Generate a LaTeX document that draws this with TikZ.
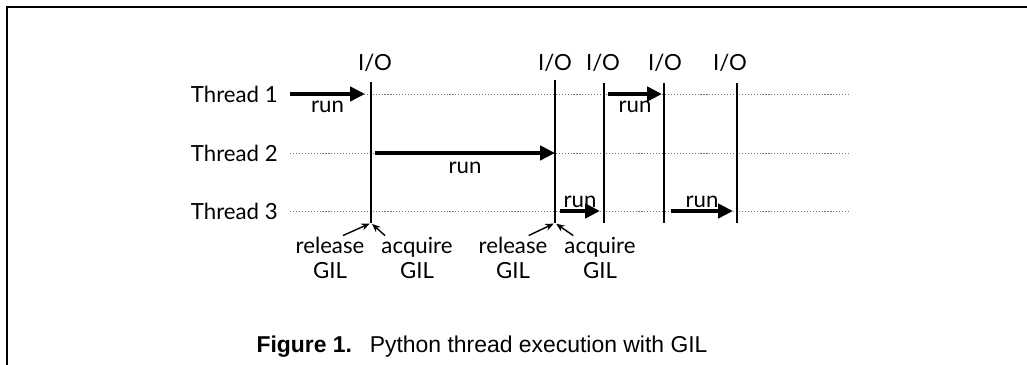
\documentclass[tikz,border=0pt]{standalone}
\usepackage{fontspec}
\setmainfont{Lato}
\newfontfamily\capfont{Liberation Sans}
\usetikzlibrary{arrows.meta,positioning}
\tikzset{%
    >={Triangle[length=10.5pt,width=10pt]},
    gillfont/.style={font=\fontsize{15.8}{17.8}\selectfont},
    thread/.style={gillfont,anchor=east,inner xsep=0.3cm},
    io/.style={gillfont,inner sep=1pt},
    lbl/.style={gillfont,inner sep=1pt},
    gil/.style={gillfont,align=center,inner sep=1pt},
    caption/.style={font=\capfont\fontsize{16.3}{18}\selectfont},
    run/.style={->,line width=2.6pt},
    switch/.style={line width=1.5pt},
    track/.style={black!55,line width=0.6pt,dash pattern=on 0.8pt off 1.3pt},
    grab/.style={-{Stealth[length=6pt,width=5pt]},line width=1pt,shorten >=1pt},
    frame/.style={line width=1.6pt}
}
\begin{document}
\begin{tikzpicture}[x=0.025cm,y=-0.025cm]
\useasboundingbox (0,0) rectangle (1027,365);
\draw[frame] (7,365) -- (7,7) -- (1027,7);
% threads
\foreach \n/\y in {1/94,2/153,3/211}{
    \node[thread] (t\n) at (290,\y) {Thread \n};
    \coordinate (end\n) at (850,\y);
    \draw[track] (t\n.east) -- (end\n);
}
% I/O switches
\foreach \n/\x/\lx/\top in {1/371/375/82,2/555/555/80,3/604/603/83,4/664/665/83,5/737/730/83}{
    \node[io] (io\n) at (\lx,63) {I/O};
    \coordinate (top\n) at (\x,\top);
    \coordinate (bot\n) at (\x,223);
    \draw[switch] (top\n) -- (bot\n);
}
%%%%%
\draw[run] (t1.east) -- node[lbl,below=3pt]{run} ([xshift=-0.15cm]top1|-t1.east);
\draw[run] ([xshift=0.1cm]top1|-t2.east) -- node[lbl,below=4pt]{run} (top2|-t2.east);
\draw[run] ([xshift=0.1cm]top3|-t1.east) -- node[lbl,below=3pt]{run} ([xshift=-0.05cm]top4|-t1.east);
\draw[run] ([xshift=0.125cm]top2|-t3.east) -- node[lbl,above=0pt]{run} ([xshift=-0.1cm]top3|-t3.east);
\draw[run] ([xshift=0.175cm]top4|-t3.east) -- node[lbl,above=0pt]{run} ([xshift=-0.1cm]top5|-t3.east);
%%%%%
\node[gil] (rel1) at (330,258) {release\\GIL};
\node[gil] (acq1) at (417,258) {acquire\\GIL};
\node[gil] (rel2) at (513,258) {release\\GIL};
\node[gil] (acq2) at (600,258) {acquire\\GIL};
\draw[grab] (rel1.60) -- (bot1);
\draw[grab] (acq1.145) -- (bot1);
\draw[grab] (rel2.55) -- (bot2);
\draw[grab] (acq2.140) -- (bot2);
\node[caption] (cap) at (482,347) {\textbf{Figure 1.}\enspace\ Python thread execution with GIL};
\end{tikzpicture}
\end{document}
